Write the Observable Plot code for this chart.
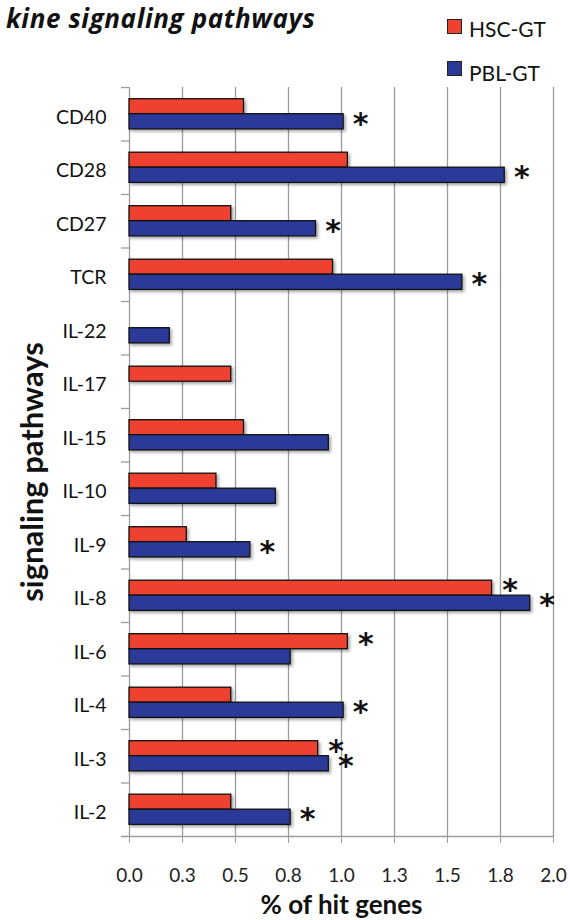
<!DOCTYPE html>
<html>
<head>
<meta charset="utf-8">
<script src="https://cdn.jsdelivr.net/npm/d3@7"></script>
<script src="https://cdn.jsdelivr.net/npm/@observablehq/plot@0.6"></script>
<style>
  html, body { margin: 0; padding: 0; background: #fff; }
  #wrap { position: relative; width: 570px; height: 920px; overflow: hidden; font-family: Lato, sans-serif; }
  #title { position: absolute; left: 6px; top: 0px; font-family: "Open Sans", sans-serif; font-size: 26px; line-height: 36px; letter-spacing: 0.6px; font-weight: bold; font-style: italic; color: #111; white-space: nowrap; }
  .sw { position: absolute; left: 447px; width: 13px; height: 13px; border: 1.5px solid #222; }
  .lt { position: absolute; left: 469px; font-size: 21px; line-height: 21px; color: #111; white-space: nowrap; }
  #chart { position: absolute; left: 0; top: 0; }
  g[aria-label="bar"] { filter: drop-shadow(2px 2px 1.5px rgba(0,0,0,0.35)); }
</style>
</head>
<body>
<div id="wrap">
  <div id="chart"></div>
  <div id="title">kine signaling pathways</div>
  <div id="legend"></div>
</div>
<script>
const categories = ["CD40","CD28","CD27","TCR","IL-22","IL-17","IL-15","IL-10","IL-9","IL-8","IL-6","IL-4","IL-3","IL-2"];
const hscValues = [0.54, 1.03, 0.48, 0.96, 0, 0.48, 0.54, 0.41, 0.27, 1.71, 1.03, 0.48, 0.89, 0.48];
const pblValues = [1.01, 1.77, 0.88, 1.57, 0.19, 0, 0.94, 0.69, 0.57, 1.89, 0.76, 1.01, 0.94, 0.76];
const hscSignificant = [false,false,false,false,false,false,false,false,false,true,true,false,true,false];
const pblSignificant = [true,true,true,true,false,false,false,false,true,true,false,true,true,true];
const seriesNames = ["HSC-GT","PBL-GT"];
const seriesColors = ["#ee4130","#2b3a98"];
const xTickValues = [0, 0.25, 0.5, 0.75, 1, 1.25, 1.5, 1.75, 2];
const xTickLabels = ["0.0","0.3","0.5","0.8","1.0","1.3","1.5","1.8","2.0"];
const xTitle = "% of hit genes";
const yTitle = "signaling pathways";

const W = 570, H = 920, mT = 87, mB = 84, mL = 129, mR = 17;
const step = (H - mT - mB) / categories.length;

const hscRows = categories.map((c, i) => ({pathway: c, value: hscValues[i], sig: hscSignificant[i]}));
const pblRows = categories.map((c, i) => ({pathway: c, value: pblValues[i], sig: pblSignificant[i]}));

const chart = Plot.plot({
  width: W, height: H,
  marginTop: mT, marginBottom: mB, marginLeft: mL, marginRight: mR,
  style: {fontFamily: "Lato, sans-serif", background: "white", overflow: "visible"},
  x: {domain: [0, 2]},
  y: {type: "band", domain: categories, paddingInner: 0, paddingOuter: 0, round: false},
  marks: [
    Plot.gridX(xTickValues.slice(1), {stroke: "#9c9c9c", strokeOpacity: 1, strokeWidth: 1.3}),
    Plot.ruleX([0], {stroke: "#9c9c9c", strokeWidth: 1.3}),
    Plot.ruleY(categories, {y: d => d, x1: -0.038, x2: 0, dy: -step / 2, stroke: "#9c9c9c", strokeWidth: 1.3}),
    Plot.ruleY([categories[categories.length - 1]], {y: d => d, x1: -0.038, x2: 2, dy: step / 2, stroke: "#9c9c9c", strokeWidth: 1.3}),
    Plot.barX(hscRows.filter(d => d.value > 0), {x: "value", y: "pathway", fill: seriesColors[0], stroke: "#111", strokeWidth: 1.3, insetTop: 11.7, insetBottom: step - 26.7}),
    Plot.barX(pblRows.filter(d => d.value > 0), {x: "value", y: "pathway", fill: seriesColors[1], stroke: "#111", strokeWidth: 1.3, insetTop: 26.7, insetBottom: step - 41.9}),
    Plot.text(hscRows.filter(d => d.sig), {x: "value", y: "pathway", text: () => "*", dx: 18, dy: -5, fontSize: 30, fontWeight: "bold", fontFamily: "DejaVu Sans", fill: "#111"}),
    Plot.text(pblRows.filter(d => d.sig), {x: "value", y: "pathway", text: () => "*", dx: 17, dy: 10, fontSize: 30, fontWeight: "bold", fontFamily: "DejaVu Sans", fill: "#111"}),
    Plot.axisX({ticks: xTickValues, tickFormat: d => xTickLabels[xTickValues.indexOf(d)], tickSize: 7, tickPadding: 25, fontSize: 19, stroke: "#9c9c9c", fill: "#222", label: null}),
    Plot.axisY({tickSize: 0, tickPadding: 23, fontSize: 19.5, fill: "#111", dy: 3, label: null}),
    Plot.text([xTitle], {frameAnchor: "bottom", dy: 77, fontSize: 26, fontWeight: "bold", fill: "#111"}),
    Plot.text([yTitle], {frameAnchor: "left", textAnchor: "middle", rotate: -90, dx: -96, dy: 10, fontSize: 31, fontWeight: "bold", fill: "#111"})
  ]
});
document.getElementById("chart").appendChild(chart);

const legend = document.getElementById("legend");
const swTops = [19, 61];
const textTops = [18, 61.5];
seriesNames.forEach((name, i) => {
  const sw = document.createElement("div");
  sw.className = "sw";
  sw.style.top = swTops[i] + "px";
  sw.style.background = seriesColors[i];
  legend.appendChild(sw);
  const t = document.createElement("div");
  t.className = "lt";
  t.style.top = textTops[i] + "px";
  t.textContent = name;
  legend.appendChild(t);
});
</script>
</body>
</html>
